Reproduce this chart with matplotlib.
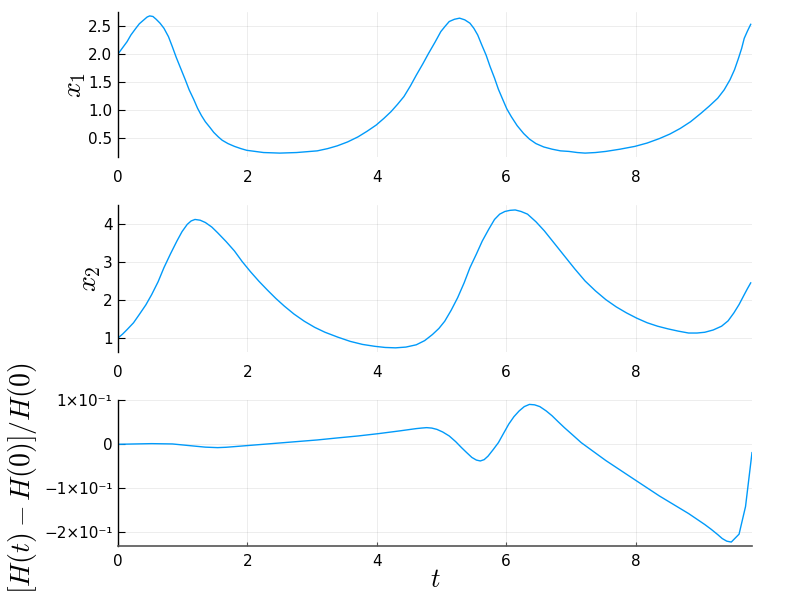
import numpy as np
import matplotlib.pyplot as plt

plt.rcParams['mathtext.fontset'] = 'cm'
plt.rcParams['font.family'] = ['DejaVu Sans']

# x1(t)
t1 = [0, 0.07, 0.14, 0.20, 0.27, 0.33, 0.40, 0.45, 0.49, 0.54, 0.59, 0.65, 0.71,
      0.78, 0.84, 0.90, 0.97, 1.04, 1.10, 1.17, 1.23, 1.29, 1.35, 1.42, 1.48,
      1.55, 1.61, 1.70, 1.80, 1.90, 1.99, 2.12, 2.25, 2.38, 2.50, 2.63, 2.76,
      2.92, 3.08, 3.24, 3.39, 3.55, 3.71, 3.85, 3.99, 4.11, 4.22, 4.32, 4.42,
      4.52, 4.61, 4.71, 4.80, 4.90, 4.99, 5.06, 5.12, 5.20, 5.28, 5.36, 5.44,
      5.50, 5.56, 5.62, 5.69, 5.75, 5.82, 5.88, 5.95, 6.01, 6.08, 6.17, 6.27,
      6.36, 6.46, 6.58, 6.71, 6.84, 6.97, 7.10, 7.22, 7.38, 7.54, 7.76, 7.99,
      8.18, 8.37, 8.53, 8.69, 8.85, 9.01, 9.14, 9.27, 9.37, 9.46, 9.53, 9.59,
      9.64, 9.68, 9.73, 9.78]
x1 = [2.00, 2.11, 2.22, 2.34, 2.45, 2.54, 2.61, 2.66, 2.68, 2.67, 2.62, 2.55, 2.46,
      2.31, 2.13, 1.94, 1.74, 1.54, 1.36, 1.19, 1.03, 0.90, 0.79, 0.69, 0.60,
      0.52, 0.46, 0.40, 0.35, 0.31, 0.28, 0.26, 0.24, 0.235, 0.23, 0.235, 0.24,
      0.255, 0.27, 0.31, 0.36, 0.43, 0.52, 0.62, 0.73, 0.85, 0.97, 1.10, 1.24,
      1.43, 1.62, 1.82, 2.01, 2.21, 2.40, 2.50, 2.58, 2.62, 2.64, 2.61, 2.55,
      2.46, 2.34, 2.17, 1.98, 1.78, 1.57, 1.37, 1.18, 1.02, 0.88, 0.72, 0.58,
      0.48, 0.40, 0.34, 0.30, 0.27, 0.26, 0.24, 0.23, 0.24, 0.26, 0.30, 0.35,
      0.41, 0.49, 0.57, 0.67, 0.79, 0.94, 1.07, 1.21, 1.36, 1.54, 1.72, 1.92,
      2.10, 2.28, 2.41, 2.53]

# x2(t)
t2 = [0, 0.07, 0.14, 0.24, 0.33, 0.43, 0.52, 0.62, 0.71, 0.81, 0.91, 0.99, 1.07,
      1.13, 1.19, 1.27, 1.35, 1.45, 1.54, 1.67, 1.80, 1.92, 2.05, 2.18, 2.31,
      2.44, 2.57, 2.72, 2.88, 3.04, 3.20, 3.40, 3.59, 3.78, 3.97, 4.13, 4.29,
      4.45, 4.61, 4.74, 4.86, 4.96, 5.05, 5.15, 5.25, 5.35, 5.44, 5.54, 5.63,
      5.73, 5.82, 5.90, 5.98, 6.06, 6.14, 6.23, 6.33, 6.46, 6.59, 6.75, 6.90,
      7.06, 7.22, 7.38, 7.54, 7.70, 7.86, 8.02, 8.18, 8.34, 8.50, 8.66, 8.82,
      8.95, 9.07, 9.20, 9.33, 9.43, 9.52, 9.60, 9.68, 9.73, 9.78]
x2 = [1.00, 1.10, 1.22, 1.40, 1.62, 1.87, 2.14, 2.48, 2.85, 3.21, 3.55, 3.80, 3.99,
      4.08, 4.12, 4.10, 4.04, 3.92, 3.77, 3.54, 3.29, 3.01, 2.74, 2.49, 2.26,
      2.04, 1.84, 1.63, 1.44, 1.28, 1.15, 1.02, 0.91, 0.83, 0.78, 0.75, 0.74,
      0.76, 0.82, 0.93, 1.09, 1.25, 1.44, 1.73, 2.06, 2.45, 2.85, 3.21, 3.55,
      3.86, 4.12, 4.26, 4.33, 4.36, 4.37, 4.33, 4.26, 4.06, 3.82, 3.48, 3.16,
      2.82, 2.50, 2.24, 2.01, 1.82, 1.66, 1.52, 1.40, 1.31, 1.24, 1.18, 1.13,
      1.13, 1.15, 1.21, 1.31, 1.45, 1.66, 1.88, 2.14, 2.30, 2.45]

# relative energy error
t3 = [0, 0.27, 0.52, 0.84, 1.16, 1.35, 1.54, 1.67, 1.80, 2.12, 2.44, 2.76, 3.08,
      3.39, 3.71, 4.03, 4.35, 4.61, 4.69, 4.77, 4.85, 4.93, 5.02, 5.12, 5.22,
      5.31, 5.39, 5.47, 5.54, 5.60, 5.66, 5.72, 5.80, 5.88, 5.96, 6.04, 6.12,
      6.20, 6.28, 6.36, 6.44, 6.52, 6.62, 6.71, 6.80, 6.90, 7.03, 7.16, 7.54,
      7.99, 8.37, 8.82, 9.07, 9.17, 9.27, 9.34, 9.41, 9.48, 9.60, 9.70, 9.80]
dH = [0.0, 0.0008, 0.0015, 0.0008, -0.0038, -0.0065, -0.0076, -0.0068, -0.0053,
      -0.0015, 0.0023, 0.0061, 0.0099, 0.0145, 0.019, 0.0244, 0.0305, 0.0358,
      0.037, 0.038, 0.037, 0.034, 0.028, 0.019, 0.006, -0.0076, -0.019, -0.030,
      -0.036, -0.038, -0.035, -0.027, -0.012, 0.0038, 0.025, 0.046, 0.063,
      0.076, 0.086, 0.091, 0.090, 0.086, 0.076, 0.065, 0.052, 0.038, 0.021,
      0.0038, -0.037, -0.081, -0.118, -0.158, -0.183, -0.194, -0.206, -0.215,
      -0.221, -0.223, -0.205, -0.142, -0.019]

xticks = [0, 2, 4, 6, 8]
h_ticks = [0.1, 0.0, -0.1, -0.2]
h_labels = ['1×10⁻¹', '0', '−1×10⁻¹', '−2×10⁻¹']

blue = '#009AFA'
fig = plt.figure(figsize=(8, 6), dpi=100)

ax1 = fig.add_axes([0.1475, 0.7383, 0.7925, 0.2417])
ax2 = fig.add_axes([0.1475, 0.4133, 0.7925, 0.2450])
ax3 = fig.add_axes([0.1475, 0.0900, 0.7925, 0.2433])

ax1.plot(t1, x1, color=blue, lw=1)
ax2.plot(t2, x2, color=blue, lw=1)
ax3.plot(t3, dH, color=blue, lw=1)

ax1.set_ylim(0.16, 2.75)
ax1.set_yticks([0.5, 1.0, 1.5, 2.0, 2.5])
ax1.set_yticklabels(['0.5', '1.0', '1.5', '2.0', '2.5'])
ax2.set_ylim(0.63, 4.5)
ax2.set_yticks([1, 2, 3, 4])
ax3.set_ylim(-0.232, 0.101)
ax3.set_yticks(h_ticks)
ax3.set_yticklabels(h_labels)

for ax in (ax1, ax2, ax3):
    ax.set_xlim(0, 9.8)
    ax.set_xticks(xticks)
    ax.grid(True, color='black', alpha=0.1, lw=0.5)
    for s in ('top', 'right'):
        ax.spines[s].set_visible(False)
    ax.spines['left'].set_linewidth(1)
    ax.tick_params(axis='y', direction='in', length=5, labelsize=11, pad=4)
    ax.tick_params(axis='x', labelsize=11, pad=6)

for ax in (ax1, ax2):
    ax.spines['bottom'].set_visible(False)
    ax.tick_params(axis='x', length=0, pad=9)

ax3.spines['bottom'].set_color('#555555')
ax3.spines['bottom'].set_linewidth(1.2)
ax3.tick_params(axis='x', direction='in', length=3, color='#555555')

ax1.set_ylabel('$x_1$', fontsize=20, labelpad=0)
ax2.set_ylabel('$x_2$', fontsize=20, labelpad=0)
ax3.set_ylabel('$[H(t) - H(0)]/H(0)$', fontsize=20)
ax3.yaxis.set_label_coords(-0.125, 0.465)
ax3.set_xlabel('$t$', fontsize=19, labelpad=-2)

fig.savefig('out.png', dpi=100)
